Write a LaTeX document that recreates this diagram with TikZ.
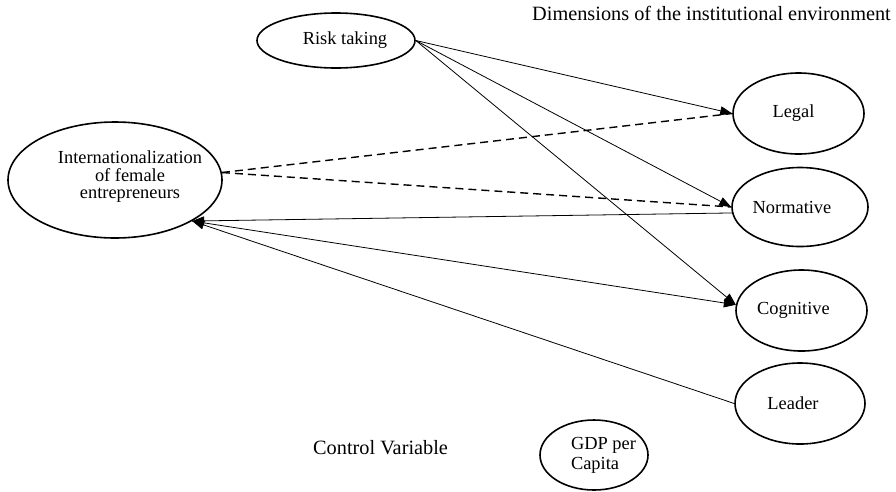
\documentclass[tikz,border=0pt]{standalone}
\usepackage{fontspec}
\setmainfont{Liberation Serif}
\usetikzlibrary{shapes.geometric,arrows.meta}
\begin{document}
\begin{tikzpicture}[x=1pt,y=-1pt,
  oval/.style={draw, ellipse, line width=1.6pt, inner sep=0pt},
  txt/.style={font=\fontsize{18.4}{17.5}\selectfont, align=center, inner sep=0pt},
  caption/.style={font=\fontsize{20.3}{22}\selectfont, inner sep=0pt},
  link/.style={line width=0.8pt, -{Triangle[length=12pt,width=9pt]}},
  dashlink/.style={line width=1.4pt, dash pattern=on 8pt off 5pt}]
\useasboundingbox (0,0) rectangle (896,491);

% constructs
\node[oval, minimum width=158pt, minimum height=55pt,
      label={[txt, xshift=9pt]center:Risk taking}] (risk) at (336,40.5) {};
\node[oval, minimum width=214pt, minimum height=116pt,
      label={[txt, xshift=15pt, yshift=3pt]center:Internationalization\\of female\\entrepreneurs}] (intl) at (115,180) {};

% dimensions of the institutional environment
\node[oval, minimum width=131pt, minimum height=81pt,
      label={[txt, xshift=-5pt]center:Legal}] (legal) at (798.5,113.5) {};
\node[oval, minimum width=136pt, minimum height=79pt,
      label={[txt, xshift=-8pt]center:Normative}] (norm) at (800,207) {};
\node[oval, minimum width=131pt, minimum height=81pt,
      label={[txt, xshift=-8pt]center:Cognitive}] (cogn) at (801.5,310.5) {};
\node[oval, minimum width=130pt, minimum height=81pt,
      label={[txt, xshift=-7pt]center:Leader}] (leader) at (800,403.5) {};

% control variable
\node[oval, minimum width=108pt, minimum height=70pt,
      label={[txt, align=left, font=\fontsize{18.4}{20}\selectfont, xshift=9.5pt]center:GDP per\\Capita}] (gdp) at (594,455) {};

% captions
\node[caption, anchor=base east] (dimcap) at (891,20) {Dimensions of the institutional environment};
\node[caption, anchor=base west] (ctrlcap) at (313,454) {Control Variable};

% connectors from risk taking
\draw[link] (risk.east) -- (legal.west);
\draw[link] (risk.east) -- (norm.west);
\draw[link] (risk.east) -- (cogn.175);

% dashed connectors
\draw[dashlink] (intl.4) -- (legal.west);
\draw[dashlink] (intl.4) -- (norm.west);

% connectors meeting the internationalization construct
\coordinate (hub) at (intl.-28);
\draw[link] (norm.185) -- (hub);
\draw[link] (leader.west) -- (hub);
\draw[link] (hub) -- (cogn.175);
\end{tikzpicture}
\end{document}
